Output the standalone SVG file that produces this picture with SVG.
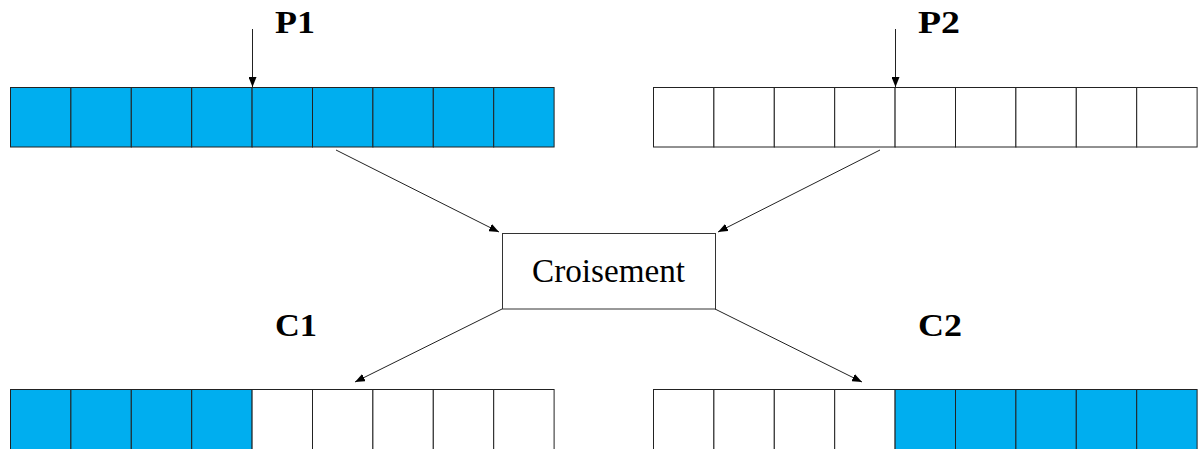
<svg xmlns="http://www.w3.org/2000/svg" width="1204" height="449" viewBox="0 0 1204 449">
<style>
.cell{stroke:#222;stroke-width:1}
.b{fill:#00AEEF}
.w{fill:#fff}
.lbl{font-family:"Liberation Serif",serif;font-weight:bold;font-size:32px;fill:#000}
.txt{font-family:"Liberation Serif",serif;font-size:33px;fill:#000}
.con{stroke:#222;stroke-width:1;fill:none;marker-end:url(#ah)}
</style>
<defs>
<marker id="ah" viewBox="0 0 10 8" refX="10" refY="4" markerWidth="10" markerHeight="8" markerUnits="userSpaceOnUse" orient="auto">
<path d="M0,0 L10,4 L0,8 Z" fill="#000"/>
</marker>
</defs>
<rect width="1204" height="449" fill="#fff"/>
<g id="P1">
<rect class="cell b" x="10.5" y="87.5" width="60.4" height="59.5"/>
<rect class="cell b" x="70.9" y="87.5" width="60.4" height="59.5"/>
<rect class="cell b" x="131.3" y="87.5" width="60.4" height="59.5"/>
<rect class="cell b" x="191.7" y="87.5" width="60.4" height="59.5"/>
<rect class="cell b" x="252.1" y="87.5" width="60.4" height="59.5"/>
<rect class="cell b" x="312.5" y="87.5" width="60.4" height="59.5"/>
<rect class="cell b" x="372.9" y="87.5" width="60.4" height="59.5"/>
<rect class="cell b" x="433.3" y="87.5" width="60.4" height="59.5"/>
<rect class="cell b" x="493.7" y="87.5" width="60.4" height="59.5"/>
<text class="lbl" x="275" y="33" textLength="40" lengthAdjust="spacingAndGlyphs">P1</text>
</g>
<g id="P2">
<rect class="cell w" x="653.5" y="87.5" width="60.4" height="59.5"/>
<rect class="cell w" x="713.9" y="87.5" width="60.4" height="59.5"/>
<rect class="cell w" x="774.3" y="87.5" width="60.4" height="59.5"/>
<rect class="cell w" x="834.7" y="87.5" width="60.4" height="59.5"/>
<rect class="cell w" x="895.1" y="87.5" width="60.4" height="59.5"/>
<rect class="cell w" x="955.5" y="87.5" width="60.4" height="59.5"/>
<rect class="cell w" x="1015.9" y="87.5" width="60.4" height="59.5"/>
<rect class="cell w" x="1076.3" y="87.5" width="60.4" height="59.5"/>
<rect class="cell w" x="1136.7" y="87.5" width="60.4" height="59.5"/>
<text class="lbl" x="918" y="33" textLength="42" lengthAdjust="spacingAndGlyphs">P2</text>
</g>
<g id="croisement">
<rect x="502.5" y="233.5" width="213" height="75.5" fill="#fff" stroke="#333" stroke-width="1"/>
<text class="txt" x="608.5" y="282" text-anchor="middle" textLength="153" lengthAdjust="spacingAndGlyphs">Croisement</text>
</g>
<g id="C1">
<rect class="cell b" x="10.5" y="389.5" width="60.4" height="61"/>
<rect class="cell b" x="70.9" y="389.5" width="60.4" height="61"/>
<rect class="cell b" x="131.3" y="389.5" width="60.4" height="61"/>
<rect class="cell b" x="191.7" y="389.5" width="60.4" height="61"/>
<rect class="cell w" x="252.1" y="389.5" width="60.4" height="61"/>
<rect class="cell w" x="312.5" y="389.5" width="60.4" height="61"/>
<rect class="cell w" x="372.9" y="389.5" width="60.4" height="61"/>
<rect class="cell w" x="433.3" y="389.5" width="60.4" height="61"/>
<rect class="cell w" x="493.7" y="389.5" width="60.4" height="61"/>
<text class="lbl" x="275" y="336" textLength="42" lengthAdjust="spacingAndGlyphs">C1</text>
</g>
<g id="C2">
<rect class="cell w" x="653.5" y="389.5" width="60.4" height="61"/>
<rect class="cell w" x="713.9" y="389.5" width="60.4" height="61"/>
<rect class="cell w" x="774.3" y="389.5" width="60.4" height="61"/>
<rect class="cell w" x="834.7" y="389.5" width="60.4" height="61"/>
<rect class="cell b" x="895.1" y="389.5" width="60.4" height="61"/>
<rect class="cell b" x="955.5" y="389.5" width="60.4" height="61"/>
<rect class="cell b" x="1015.9" y="389.5" width="60.4" height="61"/>
<rect class="cell b" x="1076.3" y="389.5" width="60.4" height="61"/>
<rect class="cell b" x="1136.7" y="389.5" width="60.4" height="61"/>
<text class="lbl" x="918" y="336" textLength="44" lengthAdjust="spacingAndGlyphs">C2</text>
</g>
<g id="connectors">
<line class="con" x1="252.5" y1="29" x2="252.5" y2="87"/>
<line class="con" x1="895.5" y1="29" x2="895.5" y2="87"/>
<line class="con" x1="336" y1="150" x2="499" y2="232"/>
<line class="con" x1="880" y1="150" x2="718" y2="232"/>
<line class="con" x1="502" y1="309" x2="355" y2="382"/>
<line class="con" x1="715" y1="309" x2="862" y2="382"/>
</g>
</svg>
